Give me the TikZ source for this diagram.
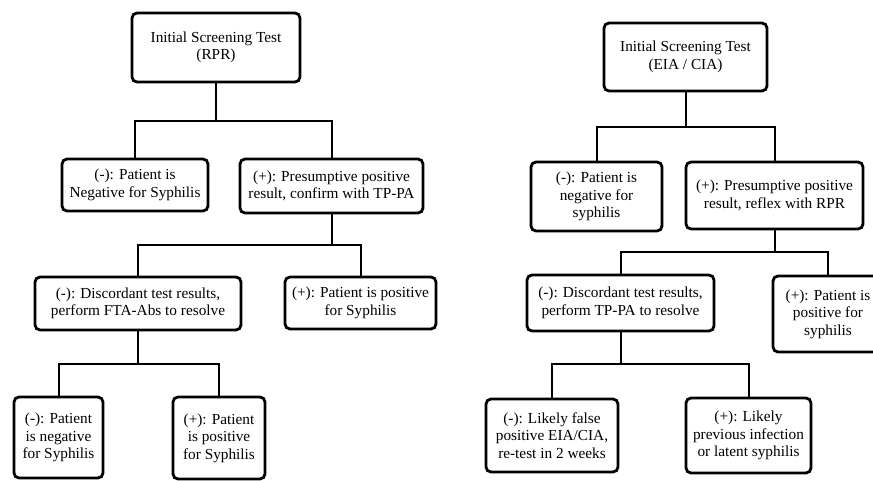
\documentclass[tikz,border=0pt]{standalone}
\usepackage{fontspec}
\setmainfont{Liberation Serif}
\usepackage{tikz}

\begin{document}
\begin{tikzpicture}[x=1pt, y=-1pt,
        box/.style={draw, line width=2.8pt, rounded corners=5pt, align=center,
                inner sep=0pt, font=\fontsize{15.3}{17.5}\selectfont},
        link/.style={line width=2pt}]
                \useasboundingbox (0,0) rectangle (873,480);

                % RPR first (left tree)
                \node[box, minimum width=168, minimum height=69] (ltop) at (216,47.5) {Initial Screening Test\\(RPR)};
                \node[box, minimum width=146, minimum height=52] (lneg) at (135,185) {(-): Patient is\\Negative for Syphilis};
                \node[box, minimum width=183, minimum height=54] (lpos) at (331.5,186) {(+): Presumptive positive\\result, confirm with TP-PA};
                \node[box, minimum width=206, minimum height=53] (ldisc) at (138,303.5) {(-): Discordant test results,\\perform FTA-Abs to resolve};
                \node[box, minimum width=151, minimum height=52] (lposb) at (360.5,303) {(+): Patient is positive\\for Syphilis};
                \node[box, minimum width=89, minimum height=81] (lnegc) at (58.5,437.5) {(-): Patient\\is negative\\for Syphilis};
                \node[box, minimum width=92, minimum height=82] (lposc) at (219,438) {(+): Patient\\is positive\\for Syphilis};

                \coordinate (lj1) at (ltop.south |- 0,121);
                \coordinate (lj2) at (lpos.south |- 0,245);
                \coordinate (lj3) at (ldisc.south |- 0,364);
                \draw[link] (ltop.south) -- (lj1) -| (lneg.north);
                \draw[link] (lj1) -| (lpos.north);
                \draw[link] (lpos.south) -- (lj2) -| (ldisc.north);
                \draw[link] (lj2) -| (lposb.north);
                \draw[link] (ldisc.south) -- (lj3) -| (lnegc.north);
                \draw[link] (lj3) -| (lposc.north);

                % EIA / CIA first (right tree)
                \node[box, minimum width=163, minimum height=68] (rtop) at (685.5,57) {Initial Screening Test\\(EIA / CIA)};
                \node[box, minimum width=131, minimum height=69] (rneg) at (596.5,196.5) {(-): Patient is\\negative for\\syphilis};
                \node[box, minimum width=177, minimum height=67] (rpos) at (774.5,195.5) {(+): Presumptive positive\\result, reflex with RPR};
                \node[box, minimum width=187, minimum height=56] (rdisc) at (620.5,303) {(-): Discordant test results,\\perform TP-PA to resolve};
                \node[box, minimum width=110, minimum height=76] (rposb) at (828,314) {(+): Patient is\\positive for\\syphilis};
                \node[box, minimum width=132, minimum height=73] (rnegc) at (552,435.5) {(-): Likely false\\positive EIA/CIA,\\re-test in 2 weeks};
                \node[box, minimum width=125, minimum height=75] (rposc) at (748.5,435.5) {(+): Likely\\previous infection\\or latent syphilis};

                \coordinate (rj1) at (rtop.south |- 0,127);
                \coordinate (rj2) at (rpos.south |- 0,252);
                \coordinate (rj3) at (rdisc.south |- 0,364);
                \draw[link] (rtop.south) -- (rj1) -| (rneg.north);
                \draw[link] (rj1) -| (rpos.north);
                \draw[link] (rpos.south) -- (rj2) -| (rdisc.north);
                \draw[link] (rj2) -| (rposb.north);
                \draw[link] (rdisc.south) -- (rj3) -| (rnegc.north);
                \draw[link] (rj3) -| (rposc.north);

            \end{tikzpicture}
\end{document}
